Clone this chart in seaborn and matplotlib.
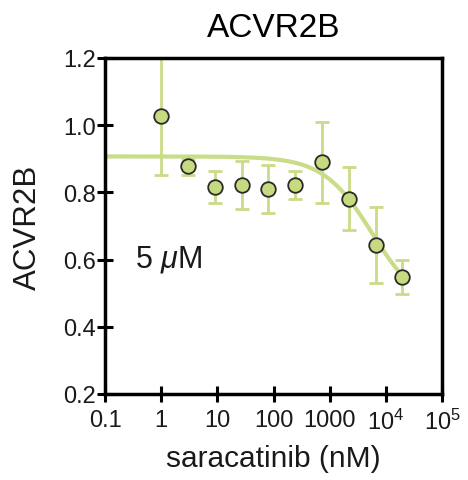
import numpy as np
import pandas as pd
import matplotlib
matplotlib.use("Agg")
import matplotlib.pyplot as plt
import seaborn as sns

# Data
conc_nM = [1, 3, 9, 27, 81, 243, 729, 2187, 6561, 19683]
mean_val = [1.028, 0.878, 0.815, 0.822, 0.810, 0.822, 0.890, 0.780, 0.643, 0.549]
err_upper = [1.200, 0.900, 0.863, 0.893, 0.882, 0.863, 1.009, 0.875, 0.756, 0.600]
err_lower = [0.852, 0.852, 0.769, 0.750, 0.739, 0.781, 0.768, 0.688, 0.530, 0.498]

# Fitted dose-response parameters (estimated from the drawn curve)
fit_top = 0.907
fit_bottom = 0.45
fit_ic50 = 5700.0
fit_hill = 1.0

xtick_vals = [0.1, 1, 10, 100, 1000, 1e4, 1e5]
xtick_labels = ["0.1", "1", "10", "100", "1000", r"$\mathregular{10^{4}}$", r"$\mathregular{10^{5}}$"]
ytick_vals = [0.2, 0.4, 0.6, 0.8, 1.0, 1.2]
ytick_labels = ["0.2", "0.4", "0.6", "0.8", "1.0", "1.2"]

sns.set_theme(style="ticks")
plt.rcParams["font.family"] = ["Liberation Sans", "DejaVu Sans"]
plt.rcParams["mathtext.fontset"] = "custom"
plt.rcParams["mathtext.rm"] = "Liberation Sans"
plt.rcParams["mathtext.it"] = "Liberation Sans:italic"

green_line = "#c9dc88"
green_fill = "#c6da80"
txt = "#1a1a1a"

df = pd.DataFrame({"conc": conc_nM, "mean": mean_val,
                   "lo": err_lower, "hi": err_upper})

xs = np.logspace(np.log10(0.1), np.log10(conc_nM[-1]), 300)
ys = fit_bottom + (fit_top - fit_bottom) / (1 + (xs / fit_ic50) ** fit_hill)
fit_df = pd.DataFrame({"x": xs, "y": ys})

fig = plt.figure(figsize=(4.68, 4.81), dpi=100)
ax = fig.add_axes([105 / 468, 1 - 395 / 481, 337 / 468, 336 / 481])

sns.lineplot(data=fit_df, x="x", y="y", ax=ax, color=green_line, lw=3.0, zorder=2)
ax.errorbar(df["conc"], df["mean"],
            yerr=[df["mean"] - df["lo"], df["hi"] - df["mean"]],
            fmt="none", ecolor=green_line, elinewidth=2.0, capsize=4.8, capthick=2.0,
            zorder=2.4)
sns.scatterplot(data=df, x="conc", y="mean", ax=ax, s=110, color=green_fill,
                edgecolor="#2a2a2a", linewidth=1.3, zorder=4, clip_on=False)

ax.set_xscale("log")
ax.set_xlim(0.1, 1e5)
ax.set_ylim(0.2, 1.2)
ax.set_xticks(xtick_vals)
ax.set_xticklabels(xtick_labels)
ax.minorticks_off()
ax.set_yticks(ytick_vals)
ax.set_yticklabels(ytick_labels)

for sp in ax.spines.values():
    sp.set_linewidth(2.5)
    sp.set_color("black")
    sp.set_zorder(3)
ax.tick_params(axis="both", direction="inout", width=2.2, length=11.5,
               labelsize=17, colors="black", labelcolor=txt)
ax.tick_params(axis="y", pad=1)
ax.tick_params(axis="x", pad=5)

ax.set_xlabel("saracatinib (nM)", fontsize=21.5, labelpad=7, color=txt)
ax.set_ylabel("ACVR2B", fontsize=22.5, labelpad=14, color=txt)
ax.set_title("ACVR2B", fontsize=24, pad=16, color="black")
ax.text(0.342, 0.579, r"5 $\mathit{μ}$M", transform=ax.transData, fontsize=22,
        ha="left", va="baseline", color=txt)

fig.savefig("out.png", dpi=100)
